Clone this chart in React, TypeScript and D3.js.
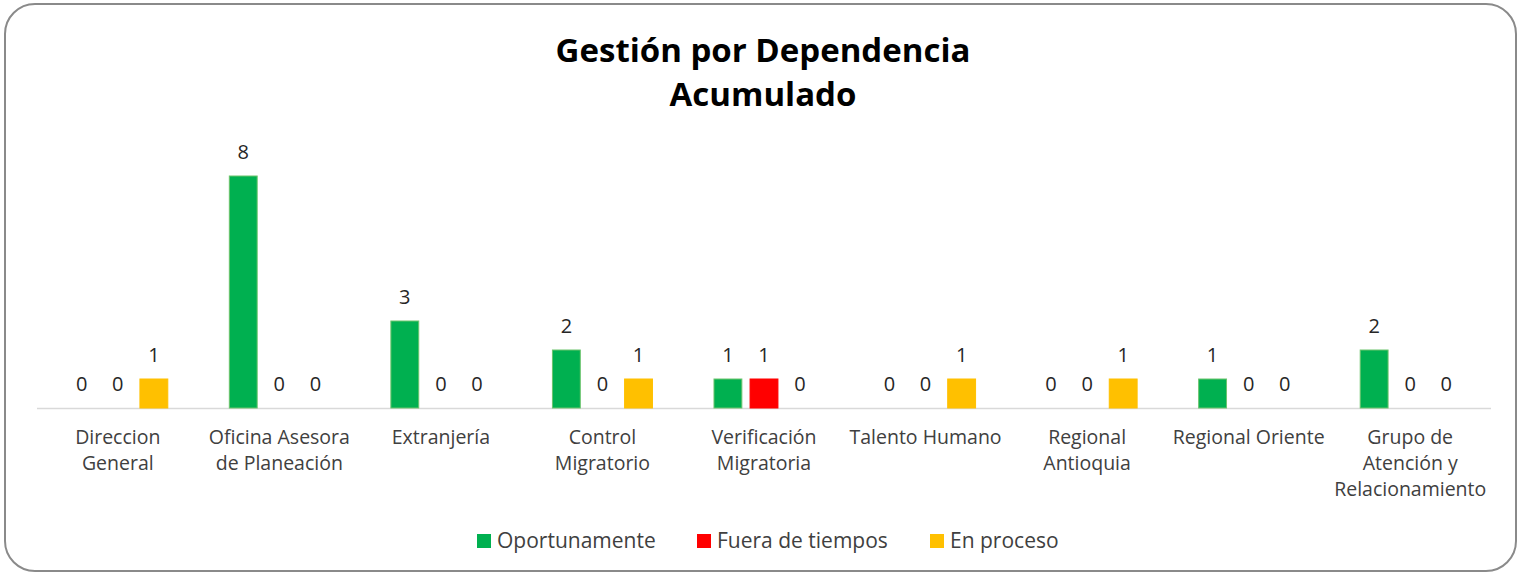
import React, { useRef, useEffect } from 'react';
import * as d3 from 'd3';

// Categories (line breaks as in the original axis labels)
const CATEGORIES = [
  'Direccion\nGeneral',
  'Oficina Asesora\nde Planeación',
  'Extranjería',
  'Control\nMigratorio',
  'Verificación\nMigratoria',
  'Talento Humano',
  'Regional\nAntioquia',
  'Regional Oriente',
  'Grupo de\nAtención y\nRelacionamiento',
];

const SERIES = ['Oportunamente', 'Fuera de tiempos', 'En proceso'];

const OPORTUNAMENTE = [0, 8, 3, 2, 1, 0, 0, 1, 2];
const FUERA_DE_TIEMPOS = [0, 0, 0, 0, 1, 0, 0, 0, 0];
const EN_PROCESO = [1, 0, 0, 1, 0, 1, 1, 0, 0];

const COLORS = ['#00B050', '#FF0000', '#FFC000'];
const STROKES = ['#6cc46c', '#FF0000', '#FFC000'];

const FONT = '"Open Sans", Lato, sans-serif';
const W = 1521;
const H = 576;

const App: React.FC = () => {
  const ref = useRef<SVGSVGElement>(null);

  useEffect(() => {
    if (!ref.current) return;
    const svg = d3.select(ref.current);
    svg.selectAll('*').remove();

    const values = [OPORTUNAMENTE, FUERA_DE_TIEMPOS, EN_PROCESO];

    // outer frame
    svg.append('rect')
      .attr('x', 5).attr('y', 4)
      .attr('width', 1511).attr('height', 567)
      .attr('rx', 30).attr('ry', 30)
      .attr('fill', '#fff')
      .attr('stroke', '#8a8a8a')
      .attr('stroke-width', 2);

    // title
    const title = svg.append('text')
      .attr('x', 763)
      .attr('text-anchor', 'middle')
      .attr('font-family', FONT)
      .attr('font-weight', 'bold')
      .attr('font-size', 33)
      .attr('fill', '#000');
    title.append('tspan').attr('x', 763).attr('y', 62).text('Gestión por Dependencia');
    title.append('tspan').attr('x', 763).attr('y', 106).text('Acumulado');

    const x0 = d3.scaleBand<number>()
      .domain(d3.range(CATEGORIES.length))
      .range([37, 1491])
      .paddingInner(0.33)
      .paddingOuter(0.165);

    const x1 = d3.scaleBand<number>()
      .domain(d3.range(SERIES.length))
      .range([0, x0.bandwidth()])
      .paddingInner(0.2)
      .paddingOuter(0.1);

    const y = d3.scaleLinear().domain([0, 8]).range([408, 176]);

    // baseline
    svg.append('line')
      .attr('x1', 37).attr('x2', 1491)
      .attr('y1', y(0) + 0.5).attr('y2', y(0) + 0.5)
      .attr('stroke', '#d9d9d9')
      .attr('stroke-width', 1.5);

    const groups = svg.append('g')
      .selectAll('g')
      .data(CATEGORIES.map((c, i) => i))
      .join('g')
      .attr('transform', i => `translate(${x0(i)},0)`);

    groups.each(function (ci) {
      const g = d3.select(this);
      SERIES.forEach((s, si) => {
        const v = values[si][ci];
        const bx = x1(si)!;
        if (v > 0) {
          g.append('rect')
            .attr('x', bx + 0.5)
            .attr('y', y(v))
            .attr('width', x1.bandwidth() - 1)
            .attr('height', y(0) - y(v))
            .attr('fill', COLORS[si])
            .attr('stroke', STROKES[si])
            .attr('stroke-width', 1);
        }
        g.append('text')
          .attr('x', bx + x1.bandwidth() / 2)
          .attr('y', y(v) - 17)
          .attr('text-anchor', 'middle')
          .attr('font-family', FONT)
          .attr('font-size', 20)
          .attr('fill', '#262626')
          .text(v);
      });
    });

    // category labels
    CATEGORIES.forEach((c, i) => {
      const cx = x0(i)! + x0.bandwidth() / 2;
      const t = svg.append('text')
        .attr('text-anchor', 'middle')
        .attr('font-family', FONT)
        .attr('font-size', 19.5)
        .attr('fill', '#404040');
      c.split('\n').forEach((line, li) => {
        t.append('tspan').attr('x', cx).attr('y', 444 + li * 26).text(line);
      });
    });

    // legend
    const legendX = [477, 697, 930];
    SERIES.forEach((s, si) => {
      svg.append('rect')
        .attr('x', legendX[si]).attr('y', 534)
        .attr('width', 14).attr('height', 14)
        .attr('fill', COLORS[si]);
      svg.append('text')
        .attr('x', legendX[si] + 20)
        .attr('y', 548)
        .attr('font-family', FONT)
        .attr('font-size', 21)
        .attr('fill', '#404040')
        .text(s);
    });
  }, []);

  return (
    <div style={{ position: 'absolute', left: 0, top: 0 }}>
      <svg ref={ref} width={W} height={H} />
    </div>
  );
};

export default App;
